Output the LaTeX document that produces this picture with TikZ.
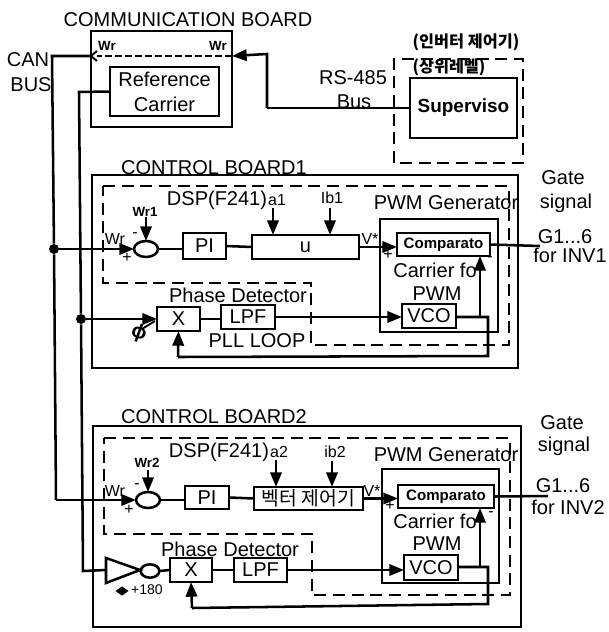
\documentclass[tikz,border=0pt]{standalone}
\usepackage{fontspec}
\setmainfont{Liberation Sans}
\newfontfamily\krfont{Noto Sans CJK KR}
\usetikzlibrary{arrows.meta,shapes.geometric,calc}
\tikzset{
 thk/.style={line width=1.9pt,line join=miter},
 thn/.style={line width=1.4pt},
 arr/.style={line width=1.9pt,-{Triangle[length=11pt,width=8.5pt]}},
 dsh/.style={line width=1.7pt,dash pattern=on 9pt off 5pt},
 boxn/.style={draw,line width=1.9pt,inner sep=0pt,outer sep=0pt,align=center},
 sumn/.style={draw,ellipse,line width=1.9pt,inner sep=0pt,outer sep=0pt,minimum width=18pt,minimum height=12pt},
 dot/.style={circle,fill=black,inner sep=0pt,minimum size=7.5pt},
 lbl/.style={inner sep=0pt,font=\fontsize{15}{15}\selectfont,align=center},
 lbs/.style={inner sep=0pt,font=\fontsize{12}{12}\selectfont},
 lbb/.style={inner sep=0pt,font=\bfseries\fontsize{10}{10}\selectfont},
 lkr/.style={inner sep=0pt,font=\krfont\bfseries\fontsize{12.2}{12}\selectfont},
}
\newcommand\bx[6]{\pgfmathsetmacro\bw{(#4-#2)*0.75}\pgfmathsetmacro\bh{(#5-#3)*0.75}%
 \node[boxn,minimum width=\bw pt,minimum height=\bh pt] (#1) at ({(#2+#4)/2},{(#3+#5)/2}) {#6};}
\begin{document}
\begin{tikzpicture}[x=0.75pt,y=-0.75pt]
\useasboundingbox (0,0) rectangle (609,632);
% --- top
\node[lbl] (tcomm) at (188,20) {COMMUNICATION BOARD};
\bx{comm}{91}{31}{232}{127}{}
\bx{ref}{110}{67}{219}{116}{}
\node[lbl,font=\fontsize{15}{18.7}\selectfont] (tref) at (ref) {Reference\\Carrier};
\node[lbl] (tcan) at (28,60) {CAN};
\node[lbl] (tbus) at (31,85) {BUS};
\node[lbb] (twl) at (107,46) {Wr};
\node[lbb] (twr) at (218,46) {Wr};
\coordinate (wrL) at (91,56);
\coordinate (wrR) at (232,56);
\draw[dsh,dash pattern=on 5pt off 2.5pt] (wrR) -- (97,56);
\draw[thn] (97,51) -- (91,56) -- (97,61);
\node[lbl] (trs) at (353,78) {RS-485};
\node[lbl] (tbusb) at (354,102) {Bus};
\node[lkr] (tk1) at (466,42) {(인버터 제어기)};
\node[lkr] (tk2) at (449,67) {(상위레벨)};
\bx{sup}{410}{78}{517}{138}{\bfseries\fontsize{14.2}{15}\selectfont Superviso}
\draw[dsh] (394,163) -- (394,59) -- (523,59) -- (523,163) -- cycle;
\coordinate (rs) at (267,108);
\draw[thk] (sup.west) -- (rs);
\draw[arr] (rs) -- (267,54) -- (wrR);
% --- buses
\node[dot] (j1) at (54,249) {};
\node[dot] (j2) at (81,319) {};
\coordinate (canA) at (52,56);
\coordinate (canB) at (56,500);
\coordinate (refA) at (79,92);
\coordinate (refB) at (83,571);
% --- board 1
\node[lbl] (tcb1) at (214,168) {CONTROL BOARD1};
\bx{cb1}{92}{175}{518}{368}{}
\draw[dsh] (103,186) -- (509,186) -- (509,345) -- (311,345) -- (311,283) -- (103,283) -- cycle;
\node[lbl] (tdsp1) at (217,200) {DSP(F241)};
\node[lbs] (ta1) at (277,200) {a1};
\node[lbs] (tib1) at (332,198) {Ib1};
\node[lbb] (tw1) at (145,212) {Wr1};
\node[lbs] (twr1) at (115,239) {Wr};
\node[lbs] (tm1) at (135,235) {-};
\node[lbs] (tp1) at (127,258) {+};
\node[sumn] (sum1) at (146,249) {};
\bx{pi1}{183}{233}{226}{259}{\fontsize{15}{15}\selectfont PI}
\bx{u1}{252}{235}{359}{259}{\fontsize{15}{15}\selectfont u}
\coordinate (a1s) at (273,208);
\coordinate (i1s) at (330,208);
\coordinate (w1s) at (146,217);
\node[lbs] (tv1) at (370,239) {V*};
\node[lbl] (tpwm1) at (446,203) {PWM Generator};
\bx{car1}{380}{219}{498}{332}{}
\bx{cmp1}{397}{233}{490}{256}{\bfseries\fontsize{11.3}{12}\selectfont Comparato}
\node[lbs] (tp1b) at (388,255) {+};
\node[lbs] (tm1b) at (490,259) {-};
\node[lbl] (tcar1) at (435,270) {Carrier fo};
\node[lbl] (tpw1) at (437,294) {PWM};
\bx{vco1}{402}{304}{456}{328}{\fontsize{15}{15}\selectfont VCO}
\bx{x1}{157}{307}{200}{331}{\fontsize{15}{15}\selectfont X}
\bx{lpf1}{221}{305}{275}{329}{\fontsize{15}{15}\selectfont LPF}
\node[lbl] (tpd1) at (238,295) {Phase Detector};
\node[lbl] (tpll) at (257,341) {PLL LOOP};
\node[lbl,font=\bfseries\fontsize{15}{15}\selectfont,rotate=-20] (tphi) at (139,333) {ϕ};
\coordinate (phiA) at (155,321);
\coordinate (phiB) at (142,329);
\draw[thn] (phiA) -- (phiB);
\node[lbl] (tg1) at (563,178) {Gate};
\node[lbl] (ts1) at (566,203) {signal};
\node[lbl] (tgg1) at (565,237) {G1...6};
\node[lbl] (tin1) at (570,255) {for INV1};
\coordinate (out1) at (540,246);
\coordinate (fb1a) at (488,317);
\coordinate (fb1b) at (488,356);
\coordinate (fb1c) at (178,357);
\coordinate (up1) at (480,317);
% --- board 2
\node[lbl] (tcb2) at (214,417) {CONTROL BOARD2};
\bx{cb2}{93}{426}{521}{627}{}
\draw[dsh] (104,438) -- (510,438) -- (510,595) -- (312,595) -- (312,534) -- (104,534) -- cycle;
\node[lbl] (tdsp2) at (219,452) {DSP(F241)};
\node[lbs] (ta2) at (279,452) {a2};
\node[lbs] (tib2) at (335,452) {ib2};
\node[lbb] (tw2) at (147,463) {Wr2};
\node[lbs] (twr2) at (115,491) {Wr};
\node[lbs] (tm2) at (137,486) {-};
\node[lbs] (tp2) at (129,510) {+};
\node[sumn] (sum2) at (148,500) {};
\bx{pi2}{185}{486}{229}{509}{\fontsize{15}{15}\selectfont PI}
\bx{u2}{254}{487}{363}{510}{\krfont\fontsize{14.5}{15}\selectfont 벡터 제어기}
\coordinate (a2s) at (276,460);
\coordinate (i2s) at (332,461);
\coordinate (w2s) at (148,470);
\node[lbs] (tv2) at (372,491) {V*};
\node[lbl] (tpwm2) at (446,455) {PWM Generator};
\bx{car2}{382}{469}{499}{583}{}
\bx{cmp2}{398}{485}{494}{508}{\bfseries\fontsize{11.3}{12}\selectfont Comparato}
\node[lbs] (tp2b) at (390,506) {+};
\node[lbs] (tm2b) at (491,514) {-};
\node[lbl] (tcar2) at (435,521) {Carrier fo};
\node[lbl] (tpw2) at (437,544) {PWM};
\bx{vco2}{404}{555}{458}{580}{\fontsize{15}{15}\selectfont VCO}
\bx{x2}{170}{558}{212}{582}{\fontsize{15}{15}\selectfont X}
\bx{lpf2}{234}{558}{287}{582}{\fontsize{15}{15}\selectfont LPF}
\node[lbl] (tpd2) at (230,549) {Phase Detector};
\coordinate (bufL) at (106,570);
\coordinate (bufT) at (140,570);
\draw[thk] (106,558) -- (bufT) -- (106,583) -- cycle;
\node[sumn,minimum width=14pt,minimum height=10pt] (inv2) at (150,571) {};
\node[diamond,fill=black,inner sep=0pt,minimum width=10pt,minimum height=7pt] (blob) at (122,591) {};
\node[lbs,font=\fontsize{10.5}{11}\selectfont] (t180) at (147,590) {+180};
\node[lbl] (tg2) at (562,423) {Gate};
\node[lbl] (ts2) at (564,446) {signal};
\node[lbl] (tgg2) at (563,486) {G1...6};
\node[lbl] (tin2) at (568,507) {for INV2};
\coordinate (out2) at (548,496);
\coordinate (fb2a) at (488,567);
\coordinate (fb2b) at (488,604);
\coordinate (fb2c) at (192,608);
\coordinate (up2) at (480,567);
% --- connectors
\draw[thk] (wrL) -- (canA) -- (j1);
\draw[thk] (j1) -- (canB);
\draw[arr] (j1) -- (sum1.west);
\draw[arr] (canB) -- (sum2.west);
\draw[thk] (ref.west) -- (refA) -- (j2);
\draw[thk] (j2) -- (refB) -- (bufL);
\draw[arr] (j2) -- (x1.west);
\draw[arr] (w1s) -- (sum1.north);
\draw[thk] (sum1.east) -- (pi1.west |- sum1.east);
\draw[thk] (pi1.east) -- (u1.west);
\draw[arr] (a1s) -- (a1s |- u1.north);
\draw[arr] (i1s) -- (i1s |- u1.north);
\draw[arr] (u1.east) -- (cmp1.west |- u1.east);
\draw[thk] (x1.east) -- (lpf1.west |- x1.east);
\draw[arr] (lpf1.east) -- (vco1.west |- lpf1.east);
\draw[thk] (vco1.east |- fb1a) -- (fb1a) -- (fb1b) -- (fb1c);
\draw[arr] (fb1c) -- (x1.south);
\draw[arr] (up1) -- (up1 |- cmp1.south);
\draw[thk] (cmp1.east) -- (out1);
\draw[arr] (w2s) -- (sum2.north);
\draw[thk] (sum2.east) -- (pi2.west |- sum2.east);
\draw[thk] (pi2.east) -- (u2.west);
\draw[arr] (a2s) -- (a2s |- u2.north);
\draw[arr] (i2s) -- (i2s |- u2.north);
\draw[arr] (u2.east) -- (cmp2.west |- u2.east);
\draw[thk] (bufT) -- (inv2.west);
\draw[thk] (inv2.east) -- (x2.west);
\draw[thk] (x2.east) -- (lpf2.west);
\draw[arr] (lpf2.east) -- (vco2.west |- lpf2.east);
\draw[thk] (vco2.east |- fb2a) -- (fb2a) -- (fb2b) -- (fb2c);
\draw[arr] (fb2c) -- (x2.south);
\draw[arr] (up2) -- (up2 |- cmp2.south);
\draw[thk] (cmp2.east) -- (out2);
\end{tikzpicture}
\end{document}
